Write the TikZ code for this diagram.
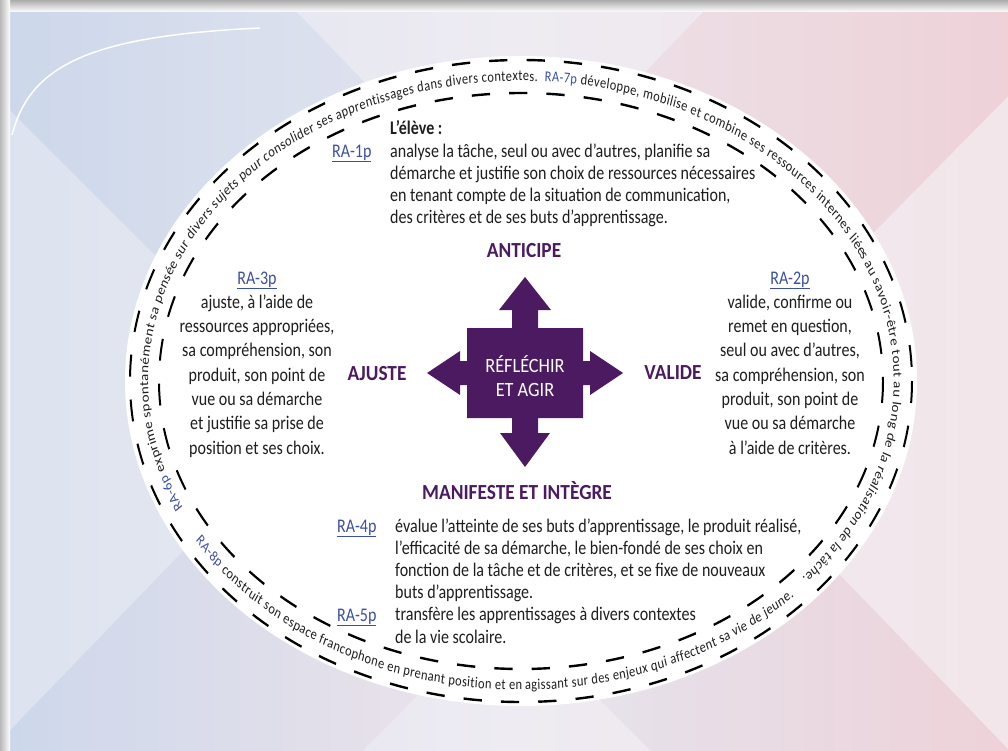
\documentclass[tikz,border=0pt]{standalone}
\usepackage{fontspec}
\setmainfont{Carlito}
\newfontfamily\condfont{Carlito}[FakeStretch=0.83]
\newfontfamily\headfont{Carlito}[FakeStretch=0.9]
\usetikzlibrary{decorations.text}
\definecolor{rpurple}{HTML}{4B1A61}
\definecolor{rblue}{HTML}{3B4FA5}
\definecolor{rtext}{HTML}{1E1E1E}
\definecolor{bgL}{HTML}{DCE3EF}
\definecolor{bgM}{HTML}{EEEBF2}
\definecolor{bgR}{HTML}{F2E6EA}
\definecolor{bandB}{HTML}{C9D5EA}
\definecolor{bandP}{HTML}{EDCDD4}
\newcommand\circfont{\fontsize{15bp}{17bp}\selectfont}
\begin{document}
\begin{tikzpicture}[x=1bp,y=-1bp,
  body/.style={font=\condfont\fontsize{19.3bp}{22bp}\selectfont, text=rtext, inner sep=0pt},
  bodyl/.style={body, anchor=base west},
  bodyc/.style={body, anchor=base},
  ralink/.style={body, text=rblue},
  head/.style={font=\headfont\bfseries\fontsize{21.5bp}{24bp}\selectfont, text=rpurple, anchor=base, inner sep=0pt},
  ring/.style={dash pattern=on 22bp off 23bp, line width=2.4bp, black},
  circtext/.style={decorate, decoration={text along path, text align={fit to path}, raise=-4.5bp, text={#1}}}
]
\useasboundingbox (0,0) rectangle (1008,751);
% background
\shade[left color=bgL, right color=bgR, middle color=bgM] (0,0) rectangle (1008,751);
\begin{scope}
  \clip (0,0) rectangle (1008,751);
  \begin{scope}
    \clip (-300,-200) -- (-120,-420) -- (1250,1000) -- (1100,1200) -- cycle;
    \shade[left color=bandB, right color=bandP, middle color=bgM!70!bandB, opacity=0.8] (0,0) rectangle (1008,751);
  \end{scope}
  \begin{scope}
    \clip (1300,-200) -- (1120,-420) -- (-250,1000) -- (-80,1200) -- cycle;
    \shade[left color=bandB, right color=bandP, middle color=bgM!70!bandP, opacity=0.8] (0,0) rectangle (1008,751);
  \end{scope}
  \draw[white, line width=1.5bp] (12,135) .. controls (30,65) and (90,36) .. (260,28);
\end{scope}
\shade[top color=gray!65, bottom color=bgM!0] (0,0) rectangle (1008,12);
\shade[left color=gray!55, right color=bgL!0] (0,0) rectangle (10,751);
% white disc
\coordinate (C) at (521,381);
\fill[white] (C) ellipse [x radius=396, y radius=325];
% rings and ring text, drawn wide then squeezed horizontally
\begin{scope}[transform canvas={xscale=0.83}]
  \coordinate (Cr) at (627.71,381);
  \draw[ring] (Cr) ellipse [x radius=471.08, y radius=321];
  \draw[ring] (Cr) ellipse [x radius=436.14, y radius=288];
  \path[circtext={|\circfont\color{rblue}\underbar|RA-6p|\circfont\color{rtext}| exprime spontanément sa pensée sur divers sujets pour consolider ses apprentissages dans divers contextes.{ }{ }|\circfont\color{rblue}\underbar|RA-7p|\circfont\color{rtext}|{ }développe, mobilise et combine ses ressources internes liées au savoir-être tout au long de la réalisation de la tâche.}]
    (Cr) ++(155:453.6 and 304.5) arc [start angle=155, end angle=401, x radius=453.6, y radius=304.5];
  \path[circtext={|\circfont\color{rblue}\underbar|RA-8p|\circfont\color{rtext}| construit son espace francophone en prenant position et en agissant sur des enjeux qui affectent sa vie de jeune.}]
    (Cr) ++(149:453.6 and 304.5) arc [start angle=149, end angle=44, x radius=453.6, y radius=304.5];
\end{scope}
% central cross
\fill[rpurple] (467,328) -- (512,328) -- (512,310) -- (499,310) -- (525,277) -- (551,310) -- (538,310) -- (538,328)
  -- (583,328) -- (583,361) -- (590,361) -- (590,351) -- (623,373) -- (590,395) -- (590,385) -- (583,385)
  -- (583,418) -- (538,418) -- (538,433) -- (550,433) -- (525,467) -- (500,433) -- (512,433) -- (512,418)
  -- (467,418) -- (467,385) -- (460,385) -- (460,395) -- (427,373) -- (460,351) -- (460,361) -- (467,361) -- cycle;
\node[font=\headfont\fontsize{20.3bp}{24bp}\selectfont, text=white, align=center, inner sep=0pt] (core) at (525,376) {RÉFLÉCHIR\\ET AGIR};
% headings
\node[head] (anticipe) at (524,257) {ANTICIPE};
\node[head] (ajuste) at (377,380) {AJUSTE};
\node[head] (valide) at (673,379) {VALIDE};
\node[head] (manifeste) at (517,499) {MANIFESTE ET INTÈGRE};
% top block
\node[body, font=\condfont\bfseries\fontsize{19.3bp}{22bp}\selectfont, anchor=base west] (eleve) at (390,134) {L’élève :};
\node[ralink, anchor=base west] (ra1) at (332,157) {\underline{RA-1p}};
\foreach \t [count=\i from 0] in {{analyse la tâche, seul ou avec d’autres, planifie sa},{démarche et justifie son choix de ressources nécessaires},{en tenant compte de la situation de communication,},{des critères et de ses buts d’apprentissage.}}
  \node[bodyl] (top\i) at (390,157+22*\i) {\t};
% left block
\node[ralink, anchor=base] (ra3) at (257,284) {\underline{RA-3p}};
\foreach \t [count=\i from 1] in {{ajuste, à l’aide de},{ressources appropriées,},{sa compréhension, son},{produit, son point de},{vue ou sa démarche},{et justifie sa prise de},{position et ses choix.}}
  \node[bodyc] (left\i) at (257,284+24.3*\i) {\t};
% right block
\node[ralink, anchor=base] (ra2) at (790,284) {\underline{RA-2p}};
\foreach \t [count=\i from 1] in {{valide, confirme ou},{remet en question,},{seul ou avec d’autres,},{sa compréhension, son},{produit, son point de},{vue ou sa démarche},{à l’aide de critères.}}
  \node[bodyc] (right\i) at (790,284+24.3*\i) {\t};
% bottom block
\node[ralink, anchor=base west] (ra4) at (337,532) {\underline{RA-4p}};
\node[ralink, anchor=base west] (ra5) at (337,621) {\underline{RA-5p}};
\foreach \t [count=\i from 0] in {{évalue l’atteinte de ses buts d’apprentissage, le produit réalisé,},{l’efficacité de sa démarche, le bien-fondé de ses choix en},{fonction de la tâche et de critères, et se fixe de nouveaux},{buts d’apprentissage.},{transfère les apprentissages à divers contextes},{de la vie scolaire.}}
  \node[bodyl] (bot\i) at (395,532+22.2*\i) {\t};
\end{tikzpicture}
\end{document}
